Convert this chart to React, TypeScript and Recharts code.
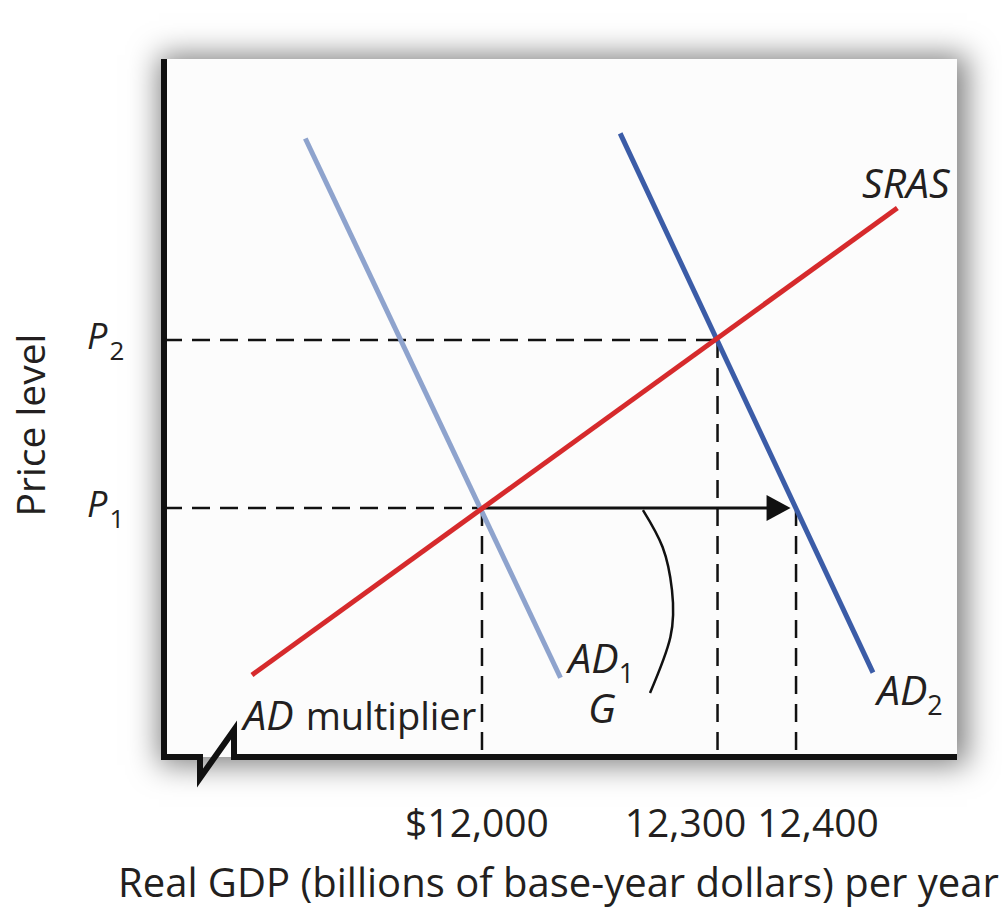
import { ComposedChart, Customized, Line, ReferenceDot, XAxis, YAxis } from 'recharts';

// equilibrium / tick values
const xTicks = [12000, 12300, 12400];
const xTickLabels = ['$12,000', '12,300', '12,400'];
const yTicks = [100, 110];
const yTickSubs = ['1', '2'];

// curves (real GDP, price level)
const sras = [
  { x: 11707, y: 90.06 },
  { x: 12529, y: 117.86 },
];
const ad1 = [
  { x: 11775, y: 122.0 },
  { x: 12100, y: 89.9 },
];
const ad2 = [
  { x: 12176, y: 122.3 },
  { x: 12498, y: 90.2 },
];
const multiplierArc = [
  { x: 12205, y: 99.88 },
  { x: 12230, y: 97.68 },
  { x: 12242, y: 95.12 },
  { x: 12240, y: 92.32 },
  { x: 12214, y: 88.99 },
];
const arrowShaft = [
  { x: 12000, y: 100 },
  { x: 12368, y: 100 },
];
const arrowTip = { x: 12393, y: 100 };

const X_DOMAIN: [number, number] = [11595, 12605];
const Y_DOMAIN: [number, number] = [85.18, 126.73];

// dashed guides from the axes to the equilibrium points
const hGuides = [
  [{ x: X_DOMAIN[0], y: 110 }, { x: 12300, y: 110 }],
  [{ x: X_DOMAIN[0], y: 100 }, { x: 12000, y: 100 }],
];
const vGuides = [
  [{ x: 12000, y: 100 }, { x: 12000, y: Y_DOMAIN[0] }],
  [{ x: 12300, y: 110 }, { x: 12300, y: Y_DOMAIN[0] }],
  [{ x: 12400, y: 100 }, { x: 12400, y: Y_DOMAIN[0] }],
];

const curveLabels = [
  { name: 'SRAS', sub: '', x: 12484, y: 118.45 },
  { name: 'AD', sub: '1', x: 12110, y: 90.18 },
  { name: 'AD', sub: '2', x: 12503, y: 88.27 },
  { name: 'G', sub: '', x: 12135, y: 87.2 },
];

const FONT = '"Open Sans", sans-serif';
const INK = '#231f20';
const RED = '#d62a2c';
const LIGHT_BLUE = '#8ea3cd';
const DARK_BLUE = '#3b5ca7';

const X_LABEL_SHIFT = [-5, -32, 22];

const XTick = ({ x, y, payload }: any) => {
  const i = xTicks.indexOf(payload.value);
  return (
    <text x={x + X_LABEL_SHIFT[i]} y={y + 80} textAnchor="middle" fontFamily={FONT} fontSize={39} fill={INK}>
      {xTickLabels[i]}
    </text>
  );
};

const YTick = ({ x, y, payload }: any) => {
  const i = yTicks.indexOf(payload.value);
  return (
    <text x={x - 77} y={y + 9} fontFamily={FONT} fontSize={36} fill={INK}>
      <tspan fontStyle="italic">P</tspan>
      <tspan fontSize={26} dy={11} dx={2}>
        {yTickSubs[i]}
      </tspan>
    </text>
  );
};

const curveLabelShape = (name: string, sub: string) => (props: any) => (
  <text x={props.cx} y={props.cy} fontFamily={FONT} fontSize={41} fill={INK}>
    <tspan fontStyle="italic">{name}</tspan>
    {sub && (
      <tspan fontSize={27} dy={10}>
        {sub}
      </tspan>
    )}
  </text>
);

const multiplierLabel = (props: any) => (
  <text x={props.cx} y={props.cy} fontFamily={FONT} fontSize={38} fill={INK}>
    <tspan fontStyle="italic" fontSize={41}>AD</tspan>
    <tspan dx={12}>multiplier</tspan>
  </text>
);

const arrowHead = (props: any) => (
  <polygon
    points={`${props.cx},${props.cy} ${props.cx - 24},${props.cy - 13} ${props.cx - 24},${props.cy + 13}`}
    fill="#111"
  />
);

// axes with the break at the origin, plus axis titles
const Frame = () => (
  <g>
    <path
      d="M164,59 L164,757 L200,757 L200,778 L234,730 L234,757 L957,757"
      fill="none"
      stroke="#111"
      strokeWidth={6}
    />
    <text x={118} y={897} fontFamily={FONT} fontSize={40} fill={INK}>
      Real GDP (billions of base-year dollars) per year
    </text>
    <text transform="translate(45,425) rotate(-90)" textAnchor="middle" fontFamily={FONT} fontSize={39} fill={INK}>
      Price level
    </text>
  </g>
);

const segmentProps = {
  type: 'linear' as const,
  dataKey: 'y',
  dot: false,
  activeDot: false,
  isAnimationActive: false,
  legendType: 'none' as const,
};

export default function App() {
  return (
    <div style={{ position: 'absolute', left: 0, top: 0, width: 1002, height: 914, background: '#fff' }}>
      <div
        style={{
          position: 'absolute',
          left: 161,
          top: 59,
          width: 796,
          height: 698,
          background: '#fcfcfc',
          boxShadow: '4px 2px 28px 6px rgba(0,0,0,0.5)',
        }}
      />
      <div style={{ position: 'absolute', left: 0, top: 0 }}>
        <ComposedChart width={1002} height={914} margin={{ top: 59, right: 45, bottom: 57, left: 64 }}>
          <XAxis
            dataKey="x"
            type="number"
            domain={X_DOMAIN}
            allowDataOverflow
            ticks={xTicks}
            tick={<XTick />}
            tickSize={0}
            tickMargin={0}
            axisLine={false}
            tickLine={false}
            height={100}
          />
          <YAxis
            type="number"
            domain={Y_DOMAIN}
            allowDataOverflow
            ticks={yTicks}
            tick={<YTick />}
            tickSize={0}
            tickMargin={0}
            axisLine={false}
            tickLine={false}
            width={100}
          />
          {hGuides.map((d, i) => (
            <Line key={`h${i}`} {...segmentProps} data={d} stroke="#111" strokeWidth={2.5} strokeDasharray="18 10" />
          ))}
          {vGuides.map((d, i) => (
            <Line key={`v${i}`} {...segmentProps} data={d} stroke="#111" strokeWidth={2.5} strokeDasharray="18 10" />
          ))}
          <Line {...segmentProps} type="natural" data={multiplierArc} stroke="#111" strokeWidth={2.5} />
          <Line {...segmentProps} data={arrowShaft} stroke="#111" strokeWidth={3} />
          <ReferenceDot x={arrowTip.x} y={arrowTip.y} r={0} shape={arrowHead} />
          <Line {...segmentProps} data={ad1} stroke={LIGHT_BLUE} strokeWidth={5} />
          <Line {...segmentProps} data={ad2} stroke={DARK_BLUE} strokeWidth={5} />
          <Line {...segmentProps} data={sras} stroke={RED} strokeWidth={5} />
          {curveLabels.map((l, i) => (
            <ReferenceDot key={`l${i}`} x={l.x} y={l.y} r={0} shape={curveLabelShape(l.name, l.sub)} />
          ))}
          <ReferenceDot x={11696} y={86.79} r={0} shape={multiplierLabel} />
          <Customized component={Frame} />
        </ComposedChart>
      </div>
    </div>
  );
}
